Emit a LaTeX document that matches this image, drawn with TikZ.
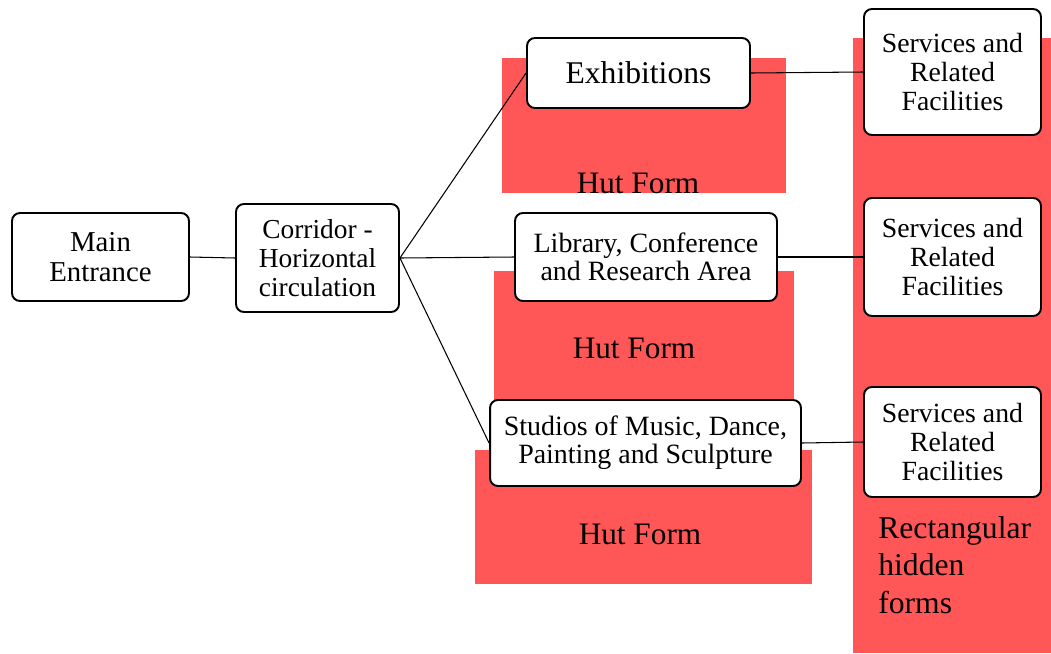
\documentclass[tikz,border=0pt]{standalone}
\usepackage{fontspec}
\setmainfont{Liberation Serif}

\definecolor{hutred}{RGB}{255,87,87}

\tikzset{
  block/.style={draw, line width=1.1pt, rounded corners=4.5pt, fill=white,
    align=center, inner sep=0pt},
  link/.style={line width=0.6pt},
  hut/.style={fill=hutred},
  hutlabel/.style={anchor=base, inner sep=0pt, font=\fontsize{17.8}{20}\selectfont},
}

\begin{document}
\begin{tikzpicture}[x=0.02cm, y=-0.02cm]
    \useasboundingbox (0,0) rectangle (1051,653);
    % red forms behind the boxes
    \fill[hut] (853,38) rectangle (1051,653) ; % rectangular
    \fill[hut] (502,58) rectangle (786,193) ; % hut 1
    \fill[hut] (494,271) rectangle (794,400) ; % hut 2
    \fill[hut] (475,450) rectangle (812,584) ; % hut 3
    \node[hutlabel] (hutA) at (638,193) {Hut Form};
    \node[hutlabel] (hutB) at (634,358) {Hut Form};
    \node[hutlabel] (hutC) at (640,544) {Hut Form};
    \node[anchor=north west, inner sep=0pt, align=left,
      font=\fontsize{18}{21.3}\selectfont] (hidden) at (878,516)
      {Rectangular\\hidden\\forms};

    % boxes
    \node[block, minimum width=3.54cm, minimum height=1.76cm,
      font=\fontsize{16.4}{17}\selectfont] (main) at (100.5,257) {Main\\Entrance};
    \node[block, minimum width=3.26cm, minimum height=2.16cm,
      font=\fontsize{15.6}{16.4}\selectfont] (corr) at (317.5,258) {Corridor -\\Horizontal\\circulation};
    \node[block, minimum width=4.46cm, minimum height=1.4cm,
      font=\fontsize{18}{20}\selectfont] (exh) at (638.5,73) {Exhibitions};
    \node[block, minimum width=5.24cm, minimum height=1.76cm,
      font=\fontsize{15.9}{16}\selectfont] (lib) at (646,257) {Library, Conference\\and Research Area};
    \node[block, minimum width=6.22cm, minimum height=1.72cm,
      font=\fontsize{15.9}{16}\selectfont] (stud) at (645.5,443) {Studios of Music, Dance,\\Painting and Sculpture};
    \node[block, minimum width=3.54cm, minimum height=2.52cm,
      font=\fontsize{15.8}{16.5}\selectfont] (servA) at (952.5,72) {Services and\\Related\\Facilities};
    \node[block, minimum width=3.54cm, minimum height=2.36cm,
      font=\fontsize{15.8}{16.5}\selectfont] (servB) at (952.5,257) {Services and\\Related\\Facilities};
    \node[block, minimum width=3.54cm, minimum height=2.2cm,
      font=\fontsize{15.8}{16.5}\selectfont] (servC) at (952.5,442) {Services and\\Related\\Facilities};

    % links
    \draw[link] (main.east) -- (corr.west);
    \draw[link] (corr.east) -- (exh.west);
    \draw[link] (corr.east) -- (lib.west);
    \draw[link] (corr.east) -- (stud.west);
    \draw[link] (exh.east) -- (servA.west);
    \draw[link] (lib.east) -- (servB.west);
    \draw[link] (stud.east) -- (servC.west);
\end{tikzpicture}
\end{document}
